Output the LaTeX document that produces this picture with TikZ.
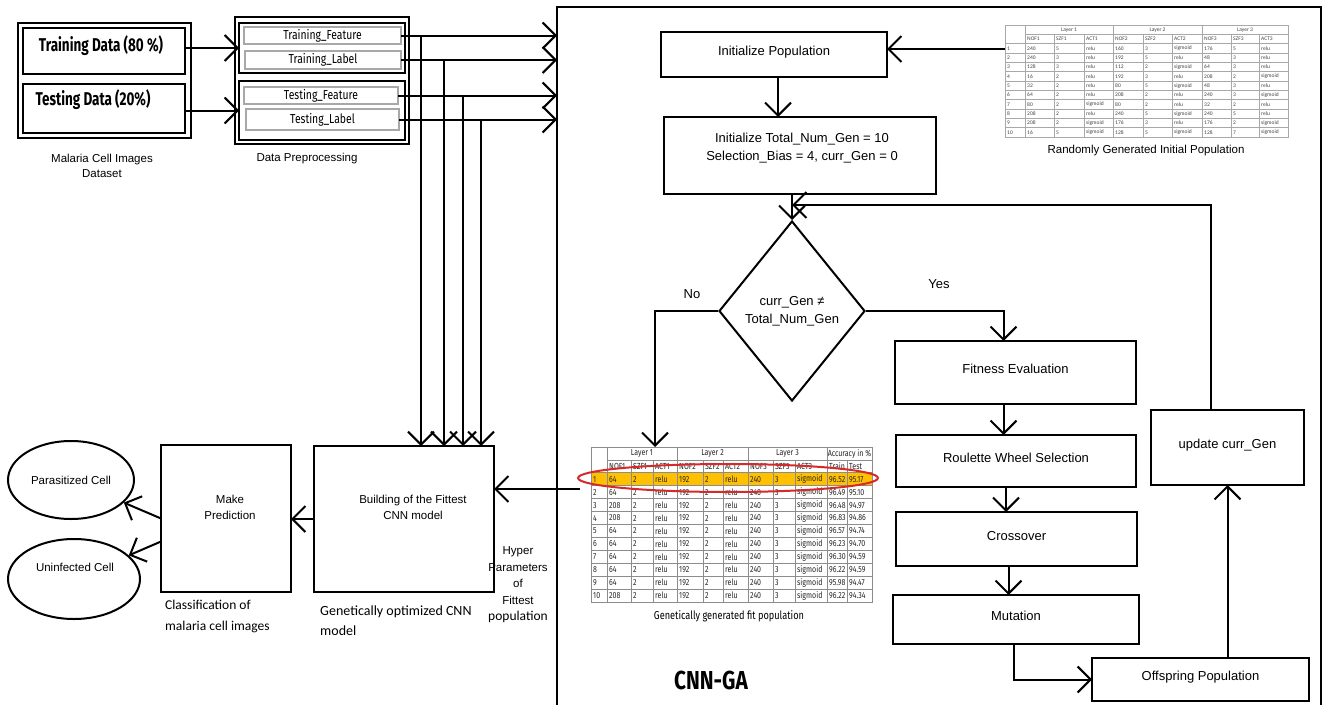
\documentclass[tikz,border=0pt]{standalone}
\usepackage{fontspec}
\setmainfont{Liberation Sans}
\newfontfamily\cond[FakeStretch=0.8]{Fira Sans}
\newfontfamily\condx[FakeStretch=0.73]{Fira Sans}
\newfontfamily\cali{Carlito}
\usetikzlibrary{arrows.meta,shapes.geometric,calc}
\definecolor{selyellow}{HTML}{FFC000}
\definecolor{selred}{HTML}{D42A2A}
\definecolor{gridgray}{HTML}{8C8C8C}
\definecolor{lightgrid}{HTML}{A8A8A8}
\definecolor{tabtext}{HTML}{444444}
\begin{document}
\begin{tikzpicture}[x=1pt,y=-1pt,
  box/.style={draw, line width=2pt, inner sep=0pt, outer sep=0pt, anchor=north west},
  thinbox/.style={draw=lightgrid, line width=1.2pt, inner sep=0pt, outer sep=0pt, anchor=north west, font=\cond\fontsize{13}{15}\selectfont},
  flow/.style={box, font=\fontsize{13}{16}\selectfont, text height=9.5pt, text depth=7pt},
  arr/.style={line width=2pt, -{Straight Barb[length=13pt,width=26pt]}},
  lbl/.style={inner sep=0pt, align=center},
  btxt/.style={inner sep=0pt, font=\cond\fontsize{8.8}{9}\selectfont, text=black!85},
  ttxt/.style={inner sep=0pt, font=\cali\fontsize{5.5}{6}\selectfont, text=tabtext},
  bgrid/.style={draw=gridgray, line width=0.8pt},
  tgrid/.style={draw=lightgrid, line width=0.6pt},
]
\useasboundingbox (0,0) rectangle (1325,704);
\fill[white] (0,0) rectangle (1325,704);

% ---------- dataset ----------
\node[box, minimum width=173pt, minimum height=115pt] (dataframe) at (18,23) {};
\node[box, minimum width=162pt, minimum height=46pt] (trainbox) at (23,28) {};
\node[box, minimum width=162pt, minimum height=49pt] (testbox) at (23,84) {};
\node[lbl, font=\condx\bfseries\fontsize{18.5}{20}\selectfont] (trtxt) at (101,46) {Training Data (80 \%)};
\node[lbl, font=\condx\bfseries\fontsize{18.5}{20}\selectfont] (tetxt) at (93,100) {Testing Data (20\%)};
\node[lbl, font=\fontsize{11.5}{15}\selectfont] (mcid) at (102,166) {Malaria Cell Images\\Dataset};

% ---------- preprocessing ----------
\node[box, minimum width=174pt, minimum height=127pt] (preframe) at (235,17) {};
\node[box, minimum width=166pt, minimum height=50pt] (topgrp) at (239,23) {};
\node[box, minimum width=166pt, minimum height=59pt] (botgrp) at (239,81) {};
\node[thinbox, minimum width=157pt, minimum height=17pt] (tf) at (244,27) {Training\_Feature};
\node[thinbox, minimum width=156pt, minimum height=18pt] (tl) at (245,51) {Training\_Label};
\node[thinbox, minimum width=154pt, minimum height=17pt] (sf) at (244,87) {Testing\_Feature};
\node[thinbox, minimum width=153pt, minimum height=21pt] (sl) at (246,109) {Testing\_Label};
\node[lbl, font=\fontsize{11.5}{15}\selectfont] (dpp) at (307,159) {Data Preprocessing};

% ---------- big CNN-GA box ----------
\node[box, minimum width=764pt, minimum height=713pt] (cnnga) at (557,7) {};
\node[lbl, font=\cond\bfseries\fontsize{26}{30}\selectfont] (cnngatxt) at (711,680) {CNN-GA};

% ---------- left side ----------
\node[box, minimum width=130pt, minimum height=147pt] (pred) at (161,445) {};
\node[lbl, font=\fontsize{11.5}{16}\selectfont] (predtxt) at (230,507) {Make\\Prediction};
\node[box, minimum width=180pt, minimum height=146pt] (build) at (314,446) {};
\node[lbl, font=\fontsize{11.5}{16}\selectfont] (buildtxt) at (413,507) {Building of the Fittest\\CNN model};
\node[draw, ellipse, line width=2pt, minimum width=126pt, minimum height=78pt, inner sep=0pt, font=\fontsize{11.5}{14}\selectfont] (para) at (71,480) {Parasitized Cell};
\node[draw, ellipse, line width=2pt, minimum width=132pt, minimum height=80pt, inner sep=0pt] (unin) at (74,579) {};
\node[lbl, font=\fontsize{11.5}{14}\selectfont] (unintxt) at (75,567) {Uninfected Cell};
\node[lbl, anchor=west, align=left, font=\cali\fontsize{13.5}{21}\selectfont] (clstxt) at (165,616.5) {Classification of\\malaria cell images};
\node[lbl, anchor=west, align=left, font=\cali\fontsize{14}{20}\selectfont] (gocnn) at (320,621) {Genetically optimized CNN\\model};
\node[lbl, font=\fontsize{11.5}{16.5}\selectfont] (hyper) at (518,585) {Hyper\\Parameters\\of\\Fittest\\{\cali\fontsize{13.5}{16.5}\selectfont population}};

% ---------- flowchart ----------
\node[flow, minimum width=226pt, minimum height=45pt] (initpop) at (661,32) {Initialize Population};
\node[box, minimum width=272pt, minimum height=77pt] (inittot) at (664,117) {};
\node[lbl, font=\fontsize{13}{18}\selectfont] (inittottxt) at (802,148) {Initialize Total\_Num\_Gen = 10\\Selection\_Bias = 4, curr\_Gen = 0};
\node[draw, diamond, line width=2pt, minimum width=146pt, minimum height=180pt, inner sep=0pt, align=center, font=\fontsize{13}{18}\selectfont] (diam) at (792,311) {curr\_Gen ≠\\Total\_Num\_Gen};
\node[lbl, font=\fontsize{13}{16}\selectfont] (notxt) at (692,294) {No};
\node[lbl, font=\fontsize{13}{16}\selectfont] (yestxt) at (939,284) {Yes};
\node[flow, minimum width=241pt, minimum height=63pt] (fitness) at (895,341) {Fitness Evaluation};
\node[flow, minimum width=240pt, minimum height=52pt] (roulette) at (896,435) {Roulette Wheel Selection};
\node[flow, minimum width=241pt, minimum height=54pt] (cross) at (896,512) {Crossover};
\node[flow, minimum width=246pt, minimum height=49pt] (mut) at (893,595) {Mutation};
\node[flow, minimum width=217pt, minimum height=43pt] (offs) at (1092,658) {Offspring Population};
\node[flow, minimum width=153pt, minimum height=75pt] (update) at (1151,410) {update curr\_Gen};

% ---------- top-right table ----------
\def\tx{{1025,1054,1084,1113,1143,1172,1202,1231,1259}}
\draw[tgrid] (1005,25) rectangle (1288,137);
\draw[tgrid] (1025,34.33) -- (1288,34.33);
\foreach \k in {0,...,9} { \draw[tgrid] (1005,{43.67+\k*9.33}) -- (1288,{43.67+\k*9.33}); }
\foreach \x in {1025,1113,1202} { \draw[tgrid] (\x,25) -- (\x,137); }
\foreach \x in {1054,1084,1143,1172,1231,1259} { \draw[tgrid] (\x,34.33) -- (\x,137); }
\node[ttxt] (th1) at (1069,29.7) {Layer 1};
\node[ttxt] (th2) at (1157.5,29.7) {Layer 2};
\node[ttxt] (th3) at (1245,29.7) {Layer 3};
\foreach [count=\j] \h in {NOF1,SZF1,ACT1,NOF2,SZF2,ACT2,NOF3,SZF3,ACT3} {
  \pgfmathsetmacro\cx{\tx[\j-1]}
  \node[ttxt, anchor=west] (thh-\j) at (\cx+2,39) {\h};
}
\foreach [count=\i] \row in {
  {240,5,relu,160,3,sigmoid,176,5,relu},
  {240,3,relu,192,5,relu,48,3,relu},
  {128,3,relu,112,2,sigmoid,64,3,relu},
  {16,2,relu,192,3,relu,208,2,sigmoid},
  {32,2,relu,80,5,sigmoid,48,3,relu},
  {64,2,relu,208,2,relu,240,3,sigmoid},
  {80,2,sigmoid,80,2,relu,32,2,relu},
  {208,2,relu,240,5,sigmoid,240,5,relu},
  {208,2,sigmoid,176,3,relu,176,2,sigmoid},
  {16,5,sigmoid,128,5,sigmoid,128,7,sigmoid}} {
  \pgfmathsetmacro\ry{43.67+(\i-0.5)*9.33}
  \node[ttxt, anchor=west] (tn-\i) at (1007,\ry) {\i};
  \foreach [count=\j] \v in \row {
    \pgfmathsetmacro\cx{\tx[\j-1]}
    \node[ttxt, anchor=west] (tc-\i-\j) at (\cx+2,\ry) {\v};
  }
}
\node[lbl, font=\fontsize{11.5}{14}\selectfont] (rgip) at (1146,151) {Randomly Generated Initial Population};

% ---------- bottom table ----------
\def\bx{{607,631,653,677,703,723,748,773,795,827,847}}
\fill[selyellow] (591,472.83) rectangle (872,485.75);
\draw[bgrid] (591,447) rectangle (872,602);
\draw[bgrid] (607,459.92) -- (872,459.92);
\foreach \k in {0,...,9} { \draw[bgrid] (591,{472.83+\k*12.92}) -- (872,{472.83+\k*12.92}); }
\foreach \x in {607,677,748,827} { \draw[bgrid] (\x,447) -- (\x,602); }
\foreach \x in {631,653,703,723,773,795,847} { \draw[bgrid] (\x,459.92) -- (\x,602); }
\node[btxt] (bh1) at (642,453.5) {Layer 1};
\node[btxt] (bh2) at (712.5,453.5) {Layer 2};
\node[btxt] (bh3) at (787.5,453.5) {Layer 3};
\node[btxt] (bh4) at (849.5,453.5) {Accuracy in \%};
\foreach [count=\j] \h in {NOF1,SZF1,ACT1,NOF2,SZF2,ACT2,NOF3,SZF3,ACT3,Train,Test} {
  \pgfmathsetmacro\cx{\bx[\j-1]}
  \node[btxt, anchor=west] (bhh-\j) at (\cx+2,466.4) {\h};
}
\foreach [count=\i] \row in {
  {64,2,relu,192,2,relu,240,3,sigmoid,96.52,95.17},
  {64,2,relu,192,2,relu,240,3,sigmoid,96.49,95.10},
  {208,2,relu,192,2,relu,240,3,sigmoid,96.48,94.97},
  {208,2,relu,192,2,relu,240,3,sigmoid,96.83,94.86},
  {64,2,relu,192,2,relu,240,3,sigmoid,96.57,94.74},
  {64,2,relu,192,2,relu,240,3,sigmoid,96.23,94.70},
  {64,2,relu,192,2,relu,240,3,sigmoid,96.30,94.59},
  {64,2,relu,192,2,relu,240,3,sigmoid,96.22,94.59},
  {64,2,relu,192,2,relu,240,3,sigmoid,95.98,94.47},
  {208,2,relu,192,2,relu,240,3,sigmoid,96.22,94.34}} {
  \pgfmathsetmacro\ry{472.83+(\i-0.5)*12.92}
  \node[btxt, anchor=west] (bn-\i) at (593,\ry) {\i};
  \foreach [count=\j] \v in \row {
    \pgfmathsetmacro\cx{\bx[\j-1]}
    \node[btxt, anchor=west] (bc-\i-\j) at (\cx+2,\ry) {\v};
  }
}
\node[draw=selred, line width=2pt, ellipse, minimum width=300pt, minimum height=28pt, inner sep=0pt] (sel) at (728,478) {};
\node[lbl, font=\cond\fontsize{11.5}{14}\selectfont] (ggfp) at (729,616) {Genetically generated fit population};

% ---------- connectors ----------
\draw[arr] (trainbox.east |- topgrp.west) -- (topgrp.west);
\draw[arr] (testbox.east |- botgrp.west) -- (botgrp.west);
\draw[arr] (tf.east) -- (tf.east -| cnnga.west);
\draw[arr] (tl.east) -- (tl.east -| cnnga.west);
\draw[arr] (sf.east) -- (sf.east -| cnnga.west);
\draw[arr] (sl.east) -- (sl.east -| cnnga.west);
\path (tf.east) ++(20,0) coordinate (j1);
\path (tl.east) ++(43,0) coordinate (j2);
\path (sf.east) ++(65,0) coordinate (j3);
\path (sl.east) ++(82,0) coordinate (j4);
\draw[arr] (j1) -- (j1 |- build.north);
\draw[arr] (j2) -- (j2 |- build.north);
\draw[arr] (j3) -- (j3 |- build.north);
\draw[arr] (j4) -- (j4 |- build.north);
\draw[arr] (build.west) -- (build.west -| pred.east);
\draw[arr] (pred.west) -- (para);
\draw[arr] ([yshift=-23pt]pred.west) -- (unin);
\coordinate (hp) at (580,489);
\draw[arr] (hp) -- (hp -| build.east);
\coordinate (tt1) at (1005,49);
\draw[arr] (tt1) -- (tt1 -| initpop.east);
\draw[arr] ([xshift=4pt]initpop.south) -- ([xshift=4pt]initpop.south |- inittot.north);
\draw[arr] (diam.north |- inittot.south) -- (diam.north);
\coordinate (lpy) at (0,205);
\coordinate (lp) at (diam.north |- lpy);
\draw[arr] ([xshift=-17pt]update.north) |- (lp);
\coordinate (notip) at (655,447);
\draw[arr] (diam.west) -| (notip);
\draw[arr] (diam.east) -| ([xshift=-12pt]fitness.north);
\draw[arr] ([xshift=-12pt]fitness.south) -- ([xshift=-12pt]fitness.south |- roulette.north);
\draw[arr] ([xshift=-10pt]roulette.south) -- ([xshift=-10pt]roulette.south |- cross.north);
\draw[arr] ([xshift=-8pt]cross.south) -- ([xshift=-8pt]cross.south |- mut.north);
\draw[arr] ([xshift=-2pt]mut.south) |- (offs.west);
\draw[arr] (update.south |- offs.north) -- (update.south);
\end{tikzpicture}
\end{document}
